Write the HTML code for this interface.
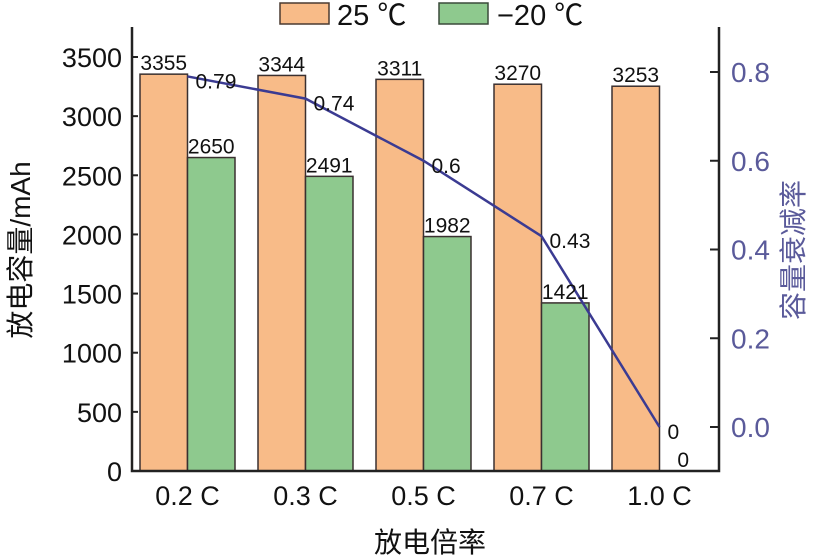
<!DOCTYPE html>
<html><head><meta charset="utf-8"><style>
body{margin:0;background:#fff}
svg{display:block;font-family:"Liberation Sans","Noto Sans CJK SC",sans-serif}
</style></head><body>
<svg id="chart" width="822" height="559" viewBox="0 0 822 559">
<g id="legend">
 <rect x="280" y="3" width="49" height="21" fill="#f8bb88" stroke="#4a3a30" stroke-width="1.5"/>
 <text x="337" y="25" font-size="29" fill="#111">25 ℃</text>
 <rect x="439" y="3" width="49" height="21" fill="#8ec98e" stroke="#3a4a3a" stroke-width="1.5"/>
 <text x="497" y="25" font-size="29" fill="#111">−20 ℃</text>
</g>
<g id="bars"></g>
<g id="axes"></g>
<path id="line" fill="none" stroke="#3b3b92" stroke-width="2.5"/>
<g id="labels"></g>
<text x="430" y="552" font-size="28" text-anchor="middle" fill="#111">放电倍率</text>
<text transform="translate(30,250) rotate(-90)" font-size="28" text-anchor="middle" fill="#111">放电容量/mAh</text>
<text transform="translate(803,250) rotate(-90)" font-size="28" text-anchor="middle" fill="#5a5a9a">容量衰减率</text>
</svg>
<script>
const categories=["0.2 C","0.3 C","0.5 C","0.7 C","1.0 C"];
const cap25=[3355,3344,3311,3270,3253];
const capM20=[2650,2491,1982,1421,0];
const fade=[0.79,0.74,0.6,0.43,0];
const yTicks=[0,500,1000,1500,2000,2500,3000,3500];
const y2Ticks=[0.0,0.2,0.4,0.6,0.8];
const NS="http://www.w3.org/2000/svg";
const L=132,R=719,B=471,T=27;
const y=v=>B-v*(414/3500);
const y2=v=>427-v*(355/0.8);
const xg=i=>140+i*118;
const bw=47.5;
function mk(tag,attrs,parent,txt){const e=document.createElementNS(NS,tag);for(const k in attrs)e.setAttribute(k,attrs[k]);if(txt!==undefined)e.textContent=txt;parent.appendChild(e);return e;}
const gb=document.getElementById('bars'),ga=document.getElementById('axes'),gl=document.getElementById('labels');
categories.forEach((c,i)=>{
 const x=xg(i);
 const r1=mk('rect',{x:x,y:y(cap25[i]),width:bw,height:B-y(cap25[i]),fill:'#f8bb88',stroke:'#3a3030','stroke-width':1.5},gb);
 
 
 if(capM20[i]>0){
  const r2=mk('rect',{x:x+bw,y:y(capM20[i]),width:bw,height:B-y(capM20[i]),fill:'#8ec98e',stroke:'#3a3030','stroke-width':1.5},gb);
  
  
 }
 const t1=mk('text',{x:x+bw/2,y:y(cap25[i])-4,'font-size':21,'text-anchor':'middle',fill:'#111'},gl,String(cap25[i]));
 
 
 const t2=mk('text',{x:x+bw*1.5,y:y(capM20[i])-4,'font-size':21,'text-anchor':'middle',fill:'#111'},gl,String(capM20[i]));
 
 
 const t3=mk('text',{x:x+bw+8,y:y2(fade[i])+12,'font-size':21,fill:'#111'},gl,String(fade[i]));
 
 
 const tx=mk('text',{x:x+bw,y:505,'font-size':27,'text-anchor':'middle',fill:'#111'},gl,c);
 
 
});
document.getElementById('line').setAttribute('d',fade.map((v,i)=>(i?'L':'M')+(xg(i)+bw)+','+y2(v)).join(''));
const ax=mk('path',{d:`M${L},${T}V${B}H${R}V${T}`,fill:'none',stroke:'#222','stroke-width':2.5},ga);


yTicks.forEach(v=>{
 mk('line',{x1:L,x2:L+6,y1:y(v),y2:y(v),stroke:'#222','stroke-width':2},ga);
 const t=mk('text',{x:L-10,y:y(v)+10,'font-size':27,'text-anchor':'end',fill:'#111'},ga,String(v));
 
 
});
y2Ticks.forEach(v=>{
 mk('line',{x1:R-9,x2:R,y1:y2(v),y2:y2(v),stroke:'#222','stroke-width':2},ga);
 const t=mk('text',{x:R+12,y:y2(v)+10,'font-size':28,fill:'#5a5a9a'},ga,v.toFixed(1));
 
 
});
</script>
</body></html>
